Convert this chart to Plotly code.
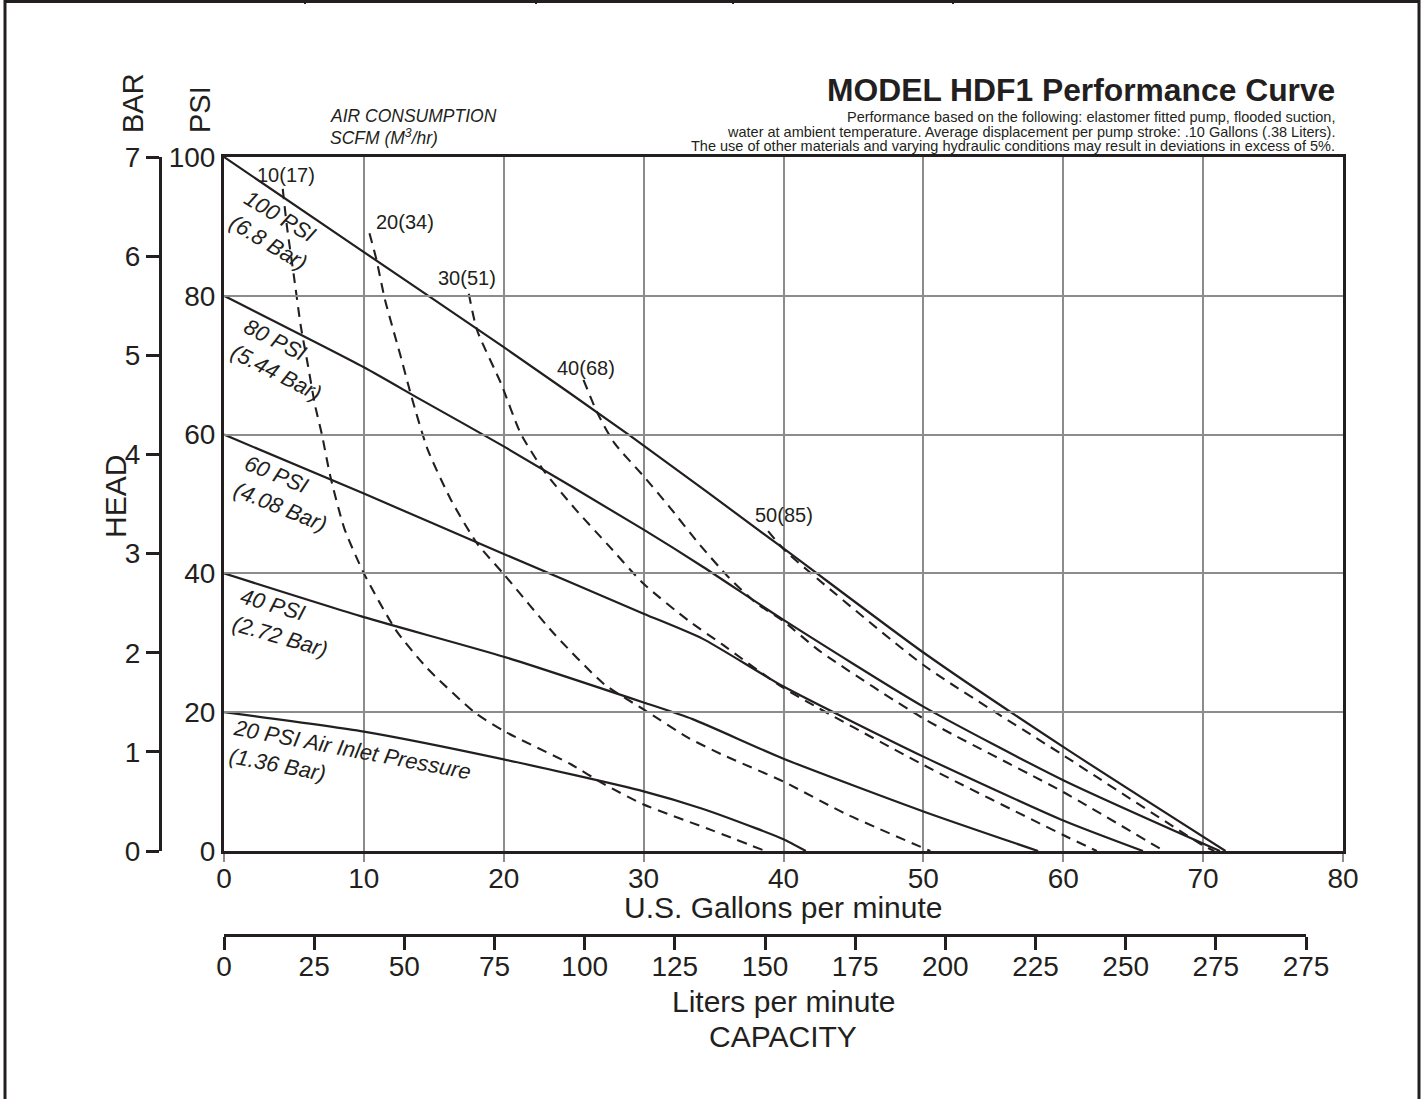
import plotly.graph_objects as go

# ---------------- DATA ----------------
GPM_TICKS = [0, 10, 20, 30, 40, 50, 60, 70, 80]
PSI_TICKS = [0, 20, 40, 60, 80, 100]
BAR_TICKS = [0, 1, 2, 3, 4, 5, 6, 7]
LPM_TICK_LABELS = ["0", "25", "50", "75", "100", "125", "150", "175", "200",
                   "225", "250", "275", "275"]

# Head-capacity curves (air inlet pressure), x = US GPM, y = PSI
P100_GPM = [0, 10, 20, 29, 40, 50, 60, 71.6]
P100_PSI = [100, 86.3, 72.6, 59.9, 43.6, 28.6, 15.0, 0]
P80_GPM = [0, 10, 14.1, 20, 30, 34.2, 40, 50, 60, 71.2]
P80_PSI = [80, 69.7, 65.0, 58.3, 46.3, 41.0, 33.3, 20.8, 10.2, 0]
P60_GPM = [0, 10, 20, 30, 34.2, 40, 50, 60, 65.7]
P60_PSI = [60, 51.5, 42.8, 34.2, 30.6, 23.7, 13.6, 4.4, 0]
P40_GPM = [0, 10, 20, 30, 33.5, 40, 50, 58.2]
P40_PSI = [40, 33.7, 28.0, 21.4, 19.0, 13.3, 5.7, 0]
P20_GPM = [0, 10, 20, 30, 34.2, 38, 40, 41.6]
P20_PSI = [20, 17.2, 13.2, 8.6, 6.1, 3.3, 1.7, 0]

# Air consumption curves, SCFM
A10_GPM = [4.2, 4.5, 5.0, 5.5, 6.0, 6.5, 7.0, 7.6, 8.6, 10.0, 12.3, 14.5, 17.9,
           20.0, 24.8, 27.2, 30.0, 35.0, 38.7]
A10_PSI = [95.4, 90.0, 82.8, 75.5, 70.0, 64.3, 60.0, 54.0, 46.5, 40.0, 31.8, 26.4,
           20.0, 17.3, 12.5, 9.6, 6.7, 2.9, 0]
A20_GPM = [10.4, 10.9, 11.5, 12.6, 13.4, 14.55, 16.2, 18.1, 20.0, 23.6, 27.2, 30.0,
           33.2, 35.6, 40.0, 44.4, 50.5]
A20_PSI = [89.0, 85.2, 79.5, 71.5, 65.5, 57.9, 50.7, 44.3, 39.9, 31.3, 24.0, 20.4,
           16.3, 13.9, 10.0, 5.4, 0]
A30_GPM = [17.5, 18.1, 19.8, 21.2, 22.9, 25.1, 27.5, 30.0, 33.2, 35.6, 40.0, 50.0,
           60.0, 62.4]
A30_PSI = [80.3, 75.0, 67.4, 60.2, 54.7, 49.3, 44.0, 38.5, 33.2, 29.8, 23.5, 12.4,
           2.3, 0]
A40_GPM = [25.7, 26.7, 27.9, 30.0, 31.8, 33.9, 36.0, 38.0, 40.0, 42.6, 50.0, 60.0, 67.2]
A40_PSI = [67.9, 63.1, 58.8, 54.0, 49.7, 44.4, 39.6, 35.8, 33.1, 28.8, 19.1, 8.5, 0]
A50_GPM = [38.9, 40.0, 41.8, 50.0, 60.0, 70.0, 70.8]
A50_PSI = [46.1, 43.5, 40.3, 26.8, 13.8, 0.8, 0]

AIR_LABELS = ["10(17)", "20(34)", "30(51)", "40(68)", "50(85)"]
AIR_LABEL_GPM = [4.4, 12.95, 17.4, 25.9, 40.0]
AIR_LABEL_PSI = [97.4, 90.6, 82.6, 69.6, 48.4]

PRESS_LABELS = ["100 PSI<br>(6.8 Bar)", "80 PSI<br>(5.44 Bar)", "60 PSI<br>(4.08 Bar)",
                "40 PSI<br>(2.72 Bar)", "20 PSI Air Inlet Pressure<br>(1.36 Bar)"]
PRESS_LABEL_GPM = [3.75, 4.2, 4.45, 4.3, 9.0]
PRESS_LABEL_PSI = [89.4, 70.8, 51.5, 32.8, 12.6]
PRESS_LABEL_ANGLE = [31, 27, 22, 16, 10.7]

TITLE = "MODEL HDF1 Performance Curve"
SUBTITLE_LINES = [
    "Performance based on the following: elastomer fitted pump, flooded suction,",
    "water at ambient temperature. Average displacement per pump stroke: .10 Gallons (.38 Liters).",
    "The use of other materials and varying hydraulic conditions may result in deviations in excess of 5%.",
]

# ---------------- LAYOUT HELPERS ----------------
W, H = 1426, 1099
ML, MR, MT, MB = 150, 83, 157, 149
PW = W - ML - MR
PH = H - MT - MB


def px(x):
    return (x - ML) / PW


def py(y):
    return (H - MB - y) / PH


INK = "#231f20"
GRID = "#8c8c8c"
FONT = "Liberation Sans, Arial, sans-serif"

fig = go.Figure()

for gx, gy in [(P100_GPM, P100_PSI), (P80_GPM, P80_PSI), (P60_GPM, P60_PSI),
               (P40_GPM, P40_PSI), (P20_GPM, P20_PSI)]:
    fig.add_trace(go.Scatter(x=gx, y=gy, mode="lines",
                             line=dict(color=INK, width=2.2, shape="spline", smoothing=0.6),
                             showlegend=False, hoverinfo="skip"))

for gx, gy in [(A10_GPM, A10_PSI), (A20_GPM, A20_PSI), (A30_GPM, A30_PSI),
               (A40_GPM, A40_PSI), (A50_GPM, A50_PSI)]:
    fig.add_trace(go.Scatter(x=gx, y=gy, mode="lines",
                             line=dict(color=INK, width=2.1, dash="10px,7px",
                                       shape="spline", smoothing=0.6),
                             showlegend=False, hoverinfo="skip"))

# invisible helpers so the secondary axes are drawn
fig.add_trace(go.Scatter(x=[0], y=[0], yaxis="y2", mode="markers",
                         marker=dict(opacity=0), showlegend=False, hoverinfo="skip"))
fig.add_trace(go.Scatter(x=[0], y=[0], xaxis="x2", mode="markers",
                         marker=dict(opacity=0), showlegend=False, hoverinfo="skip"))

annotations = []
for t, gx, gy in zip(AIR_LABELS, AIR_LABEL_GPM, AIR_LABEL_PSI):
    annotations.append(dict(x=gx, y=gy, xref="x", yref="y", text=t, showarrow=False,
                            font=dict(family=FONT, size=20, color=INK),
                            xanchor="center", yanchor="middle"))
for t, gx, gy, a in zip(PRESS_LABELS, PRESS_LABEL_GPM, PRESS_LABEL_PSI, PRESS_LABEL_ANGLE):
    annotations.append(dict(x=gx, y=gy, xref="x", yref="y",
                            text="<i>" + t.replace("<br>", "</i><br><i>") + "</i>",
                            showarrow=False, textangle=a, align="left",
                            font=dict(family=FONT, size=22, color=INK),
                            xanchor="center", yanchor="middle"))

annotations.append(dict(x=px(1337), y=py(90), xref="paper", yref="paper",
                        text="<b>" + TITLE + "</b>", showarrow=False,
                        xanchor="right", yanchor="middle",
                        font=dict(family=FONT, size=31.8, color=INK)))
for line, ypos in zip(SUBTITLE_LINES, [117, 132, 146.5]):
    annotations.append(dict(x=px(1337), y=py(ypos), xref="paper", yref="paper", text=line,
                            showarrow=False, xanchor="right", yanchor="middle",
                            font=dict(family=FONT, size=14.5, color=INK)))

annotations += [
    dict(x=px(328), y=py(116), xref="paper", yref="paper", text="<i>AIR CONSUMPTION</i>",
         showarrow=False, xanchor="left", yanchor="middle",
         font=dict(family=FONT, size=17.5, color=INK)),
    dict(x=px(328), y=py(137), xref="paper", yref="paper",
         text="<i>SCFM (M<sup>3</sup>/hr)</i>",
         showarrow=False, xanchor="left", yanchor="middle",
         font=dict(family=FONT, size=17.5, color=INK)),
    dict(x=px(133), y=py(103), xref="paper", yref="paper", text="BAR", textangle=-90,
         showarrow=False, xanchor="center", yanchor="middle",
         font=dict(family=FONT, size=29, color=INK)),
    dict(x=px(200), y=py(110), xref="paper", yref="paper", text="PSI", textangle=-90,
         showarrow=False, xanchor="center", yanchor="middle",
         font=dict(family=FONT, size=29, color=INK)),
    dict(x=px(115), y=py(497), xref="paper", yref="paper", text="HEAD", textangle=-90,
         showarrow=False, xanchor="center", yanchor="middle",
         font=dict(family=FONT, size=30, color=INK)),
    dict(x=px(783), y=py(907), xref="paper", yref="paper", text="U.S. Gallons per minute",
         showarrow=False, xanchor="center", yanchor="middle",
         font=dict(family=FONT, size=30, color=INK)),
    dict(x=px(783), y=py(1001), xref="paper", yref="paper", text="Liters per minute",
         showarrow=False, xanchor="center", yanchor="middle",
         font=dict(family=FONT, size=30, color=INK)),
    dict(x=px(783), y=py(1036), xref="paper", yref="paper", text="CAPACITY",
         showarrow=False, xanchor="center", yanchor="middle",
         font=dict(family=FONT, size=30, color=INK)),
]

shapes = [
    dict(type="rect", xref="paper", yref="paper", x0=px(5), x1=px(1419),
         y0=py(1120), y1=py(1.5), line=dict(color=INK, width=3)),
]
for dx in [305, 536, 733, 953]:
    shapes.append(dict(type="line", xref="paper", yref="paper", x0=px(dx), x1=px(dx),
                       y0=py(0), y1=py(4), line=dict(color=INK, width=2)))

fig.update_layout(
    width=W, height=H,
    margin=dict(l=ML, r=MR, t=MT, b=MB),
    paper_bgcolor="white", plot_bgcolor="rgba(0,0,0,0)",
    font=dict(family=FONT, color=INK),
    showlegend=False,
    annotations=annotations,
    shapes=shapes,
    xaxis=dict(domain=[px(224), px(1343)], range=[0, 80], tickvals=GPM_TICKS,
               showgrid=True, gridcolor=GRID, gridwidth=2, zeroline=False,
               showline=True, linecolor=INK, linewidth=3, mirror=True,
               ticks="outside", ticklen=8, tickwidth=2, tickcolor=GRID,
               ticklabelstandoff=-8,
               tickfont=dict(family=FONT, size=28, color=INK)),
    yaxis=dict(domain=[py(851), py(157)], range=[0, 100], tickvals=PSI_TICKS,
               showgrid=True, gridcolor=GRID, gridwidth=2, zeroline=False,
               showline=True, linecolor=INK, linewidth=3, mirror=True,
               ticks="", tickfont=dict(family=FONT, size=28, color=INK)),
    yaxis2=dict(overlaying="y", anchor="free", position=px(160), side="left",
                range=[0, 7], tickvals=BAR_TICKS, showgrid=False, zeroline=False,
                showline=True, linecolor=INK, linewidth=3,
                ticks="outside", ticklen=13, tickwidth=3, tickcolor=INK,
                tickfont=dict(family=FONT, size=28, color=INK)),
    xaxis2=dict(domain=[px(224), px(1306)], anchor="free", position=py(935),
                range=[0, len(LPM_TICK_LABELS) - 1],
                tickvals=list(range(len(LPM_TICK_LABELS))), ticktext=LPM_TICK_LABELS,
                showgrid=False, zeroline=False, showline=True, linecolor=INK, linewidth=3,
                ticks="outside", ticklen=13, tickwidth=3, tickcolor=INK,
                ticklabelstandoff=-8,
                tickfont=dict(family=FONT, size=28, color=INK)),
)

fig.write_html("out.html", config={"displayModeBar": False},
               post_script="document.body.style.margin='0';")
